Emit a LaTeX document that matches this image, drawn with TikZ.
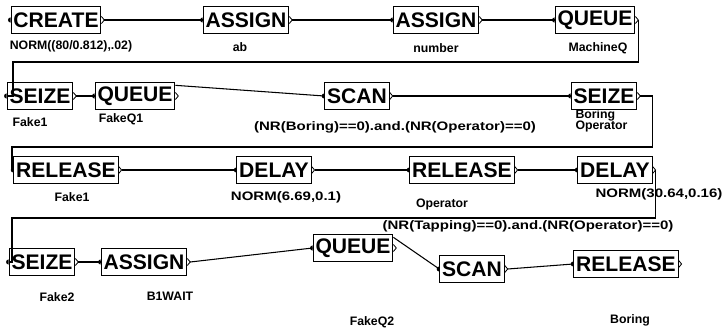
\documentclass[tikz,border=0pt]{standalone}
\usepackage{fontspec}
\setmainfont{Liberation Sans}
\newcommand{\wide}[1]{\scalebox{1.22}[1]{#1}}
\begin{document}
\begin{tikzpicture}[x=0.03cm,y=-0.03cm,line width=0.9pt]
\tikzset{blk/.style={draw,font=\bfseries\fontsize{18}{18}\selectfont,inner xsep=2pt,inner ysep=0pt,minimum height=0.82cm},
 lbl/.style={font=\bfseries\fontsize{10.5}{10.5}\selectfont,inner sep=0pt}}
\useasboundingbox (0,0) rectangle (724,330);
 % row 1
 \node[blk] (create) at (56,20) {CREATE};
 \node[blk] (assignA) at (246,20) {ASSIGN};
 \node[blk] (assignB) at (436,20) {ASSIGN};
 \node[blk] (queueA) at (595,20) {QUEUE};
 \node[lbl] (lcreate) at (71,46) {NORM((80/0.812),.02)};
 \node[lbl] (lassignA) at (240,47) {ab};
 \node[lbl] (lassignB) at (436,48) {number};
 \node[lbl] (lqueueA) at (598,48) {MachineQ};
 % row 2
 \node[blk] (seizeA) at (40,96) {SEIZE};
 \node[blk] (queueB) at (135,96) {QUEUE};
 \node[blk] (scanA) at (357,96) {SCAN};
 \node[blk] (seizeB) at (604,96) {SEIZE};
 \node[lbl] (lseizeA) at (30,122) {Fake1};
 \node[lbl] (lqueueB) at (121,119) {FakeQ1};
 \node[lbl] (lscanA) at (395,127) {\wide{(NR(Boring)==0).and.(NR(Operator)==0)}};
 \node[lbl,anchor=west] (lseizeB) at (575,115) {Boring};
 \node[lbl,anchor=west] (lseizeBb) at (575,126) {Operator};
 % row 3
 \node[blk] (releaseA) at (66,170) {RELEASE};
 \node[blk] (delayA) at (274,170) {DELAY};
 \node[blk] (releaseB) at (462,170) {RELEASE};
 \node[blk] (delayB) at (615,170) {DELAY};
 \node[lbl] (lreleaseA) at (72,197) {Fake1};
 \node[lbl] (ldelayA) at (286,197) {\wide{NORM(6.69,0.1)}};
 \node[lbl] (lreleaseB) at (442,204) {Operator};
 \node[lbl] (ldelayB) at (659,194) {\wide{NORM(30.64,0.16)}};
 % row 4
 \node[blk] (seizeC) at (42,262) {SEIZE};
 \node[blk] (assignC) at (144,262) {ASSIGN};
 \node[blk] (queueC) at (353,248) {QUEUE};
 \node[blk] (scanB) at (472,269) {SCAN};
 \node[blk] (releaseC) at (626,264) {RELEASE};
 \node[lbl] (lseizeC) at (57,297) {Fake2};
 \node[lbl] (lassignC) at (170,296) {B1WAIT};
 \node[lbl] (lqueueC) at (372,322) {FakeQ2};
 \node[lbl] (lreleaseC) at (630,320) {Boring};
 \node[lbl] (lscanB) at (528,226) {\wide{(NR(Tapping)==0).and.(NR(Operator)==0)}};
 % entry and exit marks
 \foreach \b in {create,assignA,assignB,queueA,seizeA,queueB,scanA,seizeB,
   releaseA,delayA,releaseB,delayB,seizeC,assignC,queueC,scanB,releaseC}{
  \fill ([yshift=2.2pt]\b.west) arc (90:270:2.2pt);
  \draw[line width=0.7pt] ([yshift=3pt]\b.east) -- ++(2.5pt,-3pt) -- ++(-2.5pt,-3pt);
 }
 \coordinate (turnA) at (13,62);
 \coordinate (turnB) at (12,147);
 \coordinate (turnC) at (12,218);
 \draw ([xshift=2.5pt]create.east) -- (assignA.west);
 \draw ([xshift=2.5pt]assignA.east) -- (assignB.west);
 \draw ([xshift=2.5pt]assignB.east) -- (queueA.west);
 \draw ([xshift=2.5pt]queueA.east) |- (turnA) |- (seizeA.west);
 \draw ([xshift=2.5pt]seizeA.east) -- (queueB.west);
 \draw ([yshift=-3pt]queueB.north east) -- (scanA.west);
 \draw ([xshift=2.5pt]scanA.east) -- (seizeB.west);
 \draw ([xshift=2.5pt]seizeB.east) -- ++(12,0) |- (turnB) |- (releaseA.west);
 \draw ([xshift=2.5pt]releaseA.east) -- (delayA.west);
 \draw ([xshift=2.5pt]delayA.east) -- (releaseB.west);
 \draw ([xshift=2.5pt]releaseB.east) -- (delayB.west);
 \draw ([xshift=2.5pt]delayB.east) |- (turnC) |- (seizeC.west);
 \draw ([xshift=2.5pt]seizeC.east) -- (assignC.west);
 \draw ([xshift=2.5pt]assignC.east) -- (queueC.west);
 \draw ([yshift=-3pt]queueC.north east) -- (scanB.west);
 \draw ([xshift=2.5pt]scanB.east) -- (releaseC.west);
\end{tikzpicture}
\end{document}
